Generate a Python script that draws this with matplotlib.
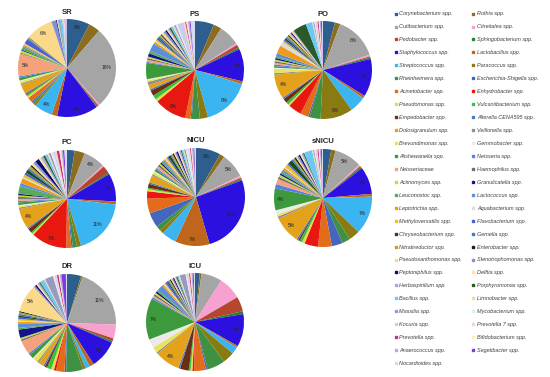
import matplotlib
matplotlib.use("Agg")
import matplotlib.pyplot as plt
from matplotlib.lines import Line2D
from matplotlib.font_manager import FontProperties
import numpy as np

# Taxa in legend (row-major) order = pie order (clockwise from 12 o'clock)
taxa = [
    "Corynebacterium spp.", "Rothia spp.", "Cutibacterium spp.", "Citreitalea spp.",
    "Pedobacter spp.", "Sphingobacterium spp.", "Staphylococcus spp.", "Lactobacillus spp.",
    "Streptococcus spp.", "Paracoccus spp.", "Rheinheimera spp.", "Escherichia-Shigella spp.",
    "Acinetobacter spp.", "Enhydrobacter spp.", "Pseudomonas spp.", "Vulcaniibacterium spp.",
    "Empedobacter spp.", "Alterella CENA595 spp.", "Dolosigranulum spp.", "Veillonella spp.",
    "Brevundimonas spp.", "Gemmobacter spp.", "Alishewanella spp.", "Neisseria spp.",
    "Neisseriaceae", "Haemophilus spp.", "Actinomyces spp.", "Granulicatella spp.",
    "Leuconostoc spp.", "Lactococcus spp.", "Leptotrichia spp.", "Aquabacterium spp.",
    "Methyloversatilis spp.", "Flavobacterium spp.", "Chryseobacterium spp.", "Gemella spp.",
    "Nitratireductor spp.", "Enterobacter spp.", "Pseudoxanthomonas spp.", "Stenotrophomonas spp.",
    "Peptoniphilus spp.", "Delftia spp.", "Herbaspirillum spp.", "Porphyromonas spp.",
    "Bacillus spp.", "Limnobacter spp.", "Massilia spp.", "Mycobacterium spp.",
    "Kocuria spp.", "Prevotella 7 spp.", "Prevotella spp.", "Bifidobacterium spp.",
    "Anaerococcus spp.", "Segetibacter spp.", "Nocardioides spp.",
]

colors = [
    "#2E5E8E", "#8C6D1F", "#A5A5A5", "#F7A1D0",
    "#B5452F", "#2E7D32", "#2B10E0", "#C0651C",
    "#3BB4F2", "#8A7A12", "#3F9142", "#4466BB",
    "#E36C1B", "#E8170F", "#E8D84A", "#36C23A",
    "#6B2E12", "#4A78C8", "#E3A21A", "#8F8F8F",
    "#E9E35A", "#EAEAEA", "#3C9A3C", "#5A7FE0",
    "#F4A27C", "#6E6E6E", "#C4DC3C", "#14148C",
    "#5AAA5A", "#5B8FD8", "#F09A1A", "#DCDCDC",
    "#E2C12A", "#4A5FD6", "#1C4A1C", "#3A7BC0",
    "#B8A23A", "#1E1E1E", "#FBD98A", "#8090D8",
    "#0A0A70", "#FBE39A", "#A8A8D8", "#2A5A2A",
    "#6CC8F4", "#FAD7A0", "#9A9AC0", "#D6EEF6",
    "#CCCCEE", "#FAD4C0", "#C8307A", "#F8ECC0",
    "#B4ACDC", "#7A3CE0", "#D4DCF2",
]

samples = ["SR", "PS", "PO", "PC", "NICU", "sNICU", "DR", "ICU"]

SR = [5, 2.5, 18, 0.3, 0.3, 0.2, 9, 1.2, 4, 0.5,
      0.4, 0.3, 0.8, 0.2, 0.5, 0.4, 0.2, 0.2, 2.0, 0.3,
      0.5, 0.2, 0.6, 0.3, 5, 0.2, 0.5, 0.2, 0.6, 0.3,
      0.3, 0.1, 0.2, 1.0, 0.1, 0.2, 0.2, 0.1, 6, 1.0,
      0.2, 0.2, 0.3, 0.1, 0.6, 0.1, 0.1, 0.1, 0.1, 0.1,
      0.1, 0.1, 0.1, 0.1, 0.1]
PS = [3.5, 1.5, 3.9, 0.3, 0.6, 0.3, 6, 0.5, 9, 1.5,
      1.5, 0.2, 1.0, 6, 0.5, 0.8, 1.0, 0.3, 0.8, 0.6,
      0.3, 0.2, 3.0, 0.2, 0.4, 0.3, 0.3, 0.6, 0.5, 1.5,
      0.4, 0.2, 0.3, 0.3, 0.2, 0.3, 0.3, 0.2, 0.5, 0.4,
      0.3, 0.3, 0.3, 0.3, 0.4, 0.3, 0.3, 0.3, 1.2, 0.3,
      0.2, 0.3, 0.3, 0.2, 0.8]
PO = [2.2, 1.0, 8, 0.3, 0.2, 0.3, 7, 0.5, 3.0, 6,
      2.0, 0.3, 1.5, 2.5, 0.3, 0.5, 0.8, 0.3, 4.5, 0.3,
      0.8, 0.2, 0.3, 0.3, 0.3, 0.3, 0.3, 0.3, 0.3, 0.6,
      1.5, 0.8, 0.3, 0.3, 0.3, 0.3, 0.3, 0.2, 0.3, 0.2,
      0.2, 0.3, 0.2, 2.5, 1.2, 0.2, 0.2, 0.2, 0.2, 0.2,
      0.2, 0.2, 0.2, 0.2, 0.2]
PC = [1.5, 2.0, 4.2, 0.3, 1.5, 0.3, 5.5, 0.6, 11, 0.8,
      0.8, 0.3, 1.0, 7, 0.3, 0.3, 0.8, 0.3, 4.0, 0.3,
      0.3, 0.2, 0.5, 0.3, 0.4, 0.4, 0.3, 0.3, 1.5, 0.6,
      1.0, 0.3, 0.5, 0.5, 0.6, 0.4, 0.5, 0.3, 0.5, 0.5,
      0.8, 0.5, 0.5, 0.4, 0.5, 0.3, 0.4, 0.5, 0.3, 0.4,
      0.5, 0.4, 0.3, 0.3, 0.5]
NICU = [5, 1.0, 5, 0.4, 0.3, 0.3, 16, 7, 3, 0.8,
        1.0, 3, 3, 1.5, 0.4, 0.3, 0.8, 0.3, 1.5, 0.3,
        0.5, 0.2, 0.4, 0.3, 0.5, 0.4, 0.3, 0.3, 0.4, 0.3,
        0.3, 0.2, 0.3, 0.3, 0.5, 0.2, 0.3, 0.3, 0.3, 0.3,
        0.3, 0.3, 0.3, 0.2, 0.3, 0.2, 0.3, 0.5, 0.2, 0.2,
        0.2, 0.2, 0.3, 0.2, 0.3]
sNICU = [1.5, 0.8, 5, 0.3, 0.2, 0.3, 5, 0.5, 7, 2.0,
         1.5, 2.0, 2.5, 2.5, 0.5, 0.5, 0.3, 0.3, 5, 0.4,
         0.4, 0.8, 4, 0.8, 1.0, 0.4, 0.4, 0.3, 0.4, 0.4,
         0.4, 0.2, 0.6, 0.3, 0.8, 0.3, 0.3, 0.3, 0.3, 0.3,
         0.3, 0.3, 0.3, 0.2, 1.5, 0.2, 0.2, 0.2, 0.2, 0.2,
         0.2, 0.2, 0.2, 0.2, 0.2]
DR = [2.5, 0.3, 11, 2.5, 0.5, 0.3, 5, 0.8, 0.8, 0.5,
      3, 0.3, 1.5, 0.4, 0.5, 0.8, 0.4, 0.3, 1.0, 0.3,
      0.8, 0.2, 0.8, 0.3, 2.5, 0.3, 0.3, 1.5, 0.3, 0.8,
      0.3, 0.2, 0.3, 0.3, 0.3, 0.3, 0.3, 0.2, 5, 0.3,
      0.3, 0.3, 0.3, 0.2, 0.8, 0.2, 1.5, 0.3, 0.2, 0.2,
      0.3, 0.2, 0.3, 0.8, 0.2]
ICU = [0.8, 0.3, 3.5, 3.9, 2.5, 0.5, 5.5, 0.3, 1.2, 2.0,
       3.0, 0.3, 2.0, 0.3, 0.3, 0.3, 1.5, 0.3, 4.2, 0.3,
       1.0, 1.5, 7, 0.3, 0.3, 0.3, 0.3, 0.3, 0.3, 1.0,
       0.3, 0.2, 0.2, 0.3, 0.2, 0.2, 0.2, 0.2, 0.2, 0.2,
       0.2, 0.2, 0.2, 0.2, 0.2, 0.2, 1.0, 0.2, 0.2, 0.2,
       0.2, 0.2, 0.2, 0.2, 0.2]

data = [SR, PS, PO, PC, NICU, sNICU, DR, ICU]

W, H = 550, 377
fig = plt.figure(figsize=(W / 100, H / 100), dpi=100)

centers = [(67, 68), (195, 70), (323, 70),
           (67, 199), (196, 197), (323, 198),
           (67, 323), (195, 322)]
R = 49

for name, vals, (cx, cy) in zip(samples, data, centers):
    ax = fig.add_axes([(cx - R) / W, 1 - (cy + R) / H, 2 * R / W, 2 * R / H])
    wedges, _ = ax.pie(vals, colors=colors, startangle=90, counterclock=False,
                       radius=1, wedgeprops=dict(linewidth=0))
    ax.set_xlim(-1, 1)
    ax.set_ylim(-1, 1)
    ax.set_aspect("equal")
    ax.axis("off")
    for w, v in zip(wedges, vals):
        if v >= 3.95:
            ang = np.deg2rad((w.theta1 + w.theta2) / 2)
            rr = 0.8 if v >= 10 else 0.86
            ax.text(rr * np.cos(ang), rr * np.sin(ang), f"{round(v)}%",
                    ha="center", va="center", fontsize=3.6, color="#262626",
                    family="Liberation Sans")
    fig.text(cx / W, 1 - (cy - R - 7) / H, name, ha="center", va="center",
             fontsize=5.5, fontweight="bold", family="Liberation Sans",
             color="#262626")

fp = FontProperties(family="Liberation Sans", style="italic", size=4)
handles = [Line2D([], [], marker="s", color=c, linestyle="none", markersize=1.8)
           for c in colors]
left_idx = list(range(0, len(taxa), 2))
right_idx = list(range(1, len(taxa), 2))

for idx, x0 in ((left_idx, 393.5), (right_idx, 471)):
    fig.legend([handles[i] for i in idx], [taxa[i] for i in idx],
               loc="upper left", bbox_to_anchor=(x0 / W, 1 - 11.5 / H),
               frameon=False, prop=fp, handlelength=0.8, handletextpad=0.25,
               labelspacing=1.43, borderpad=0, borderaxespad=0,
               labelcolor="#404040")

fig.savefig("out.png", dpi=100)
